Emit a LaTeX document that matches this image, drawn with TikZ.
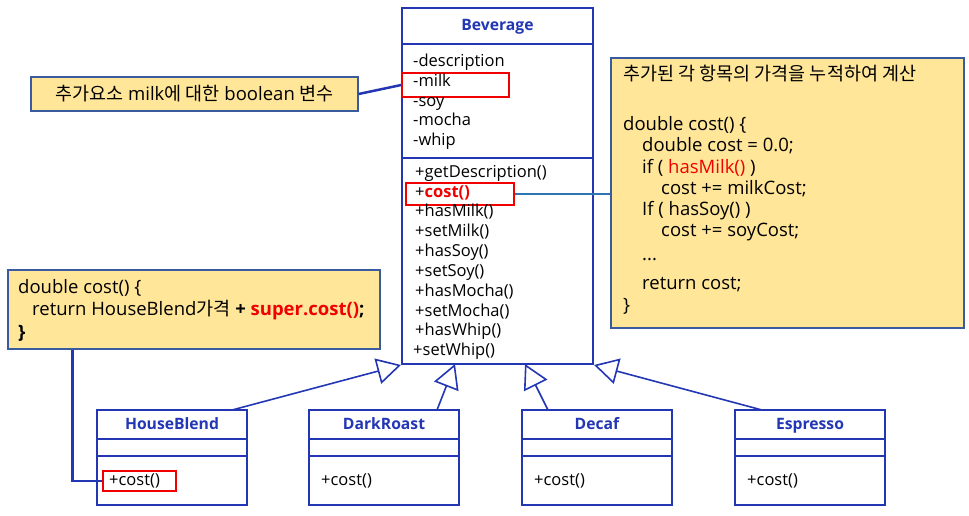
\documentclass[tikz,border=0pt]{standalone}
\usepackage{fontspec}
\setmainfont{Open Sans}
\newfontfamily\kr{Noto Sans CJK KR}
\usetikzlibrary{arrows.meta,calc}
\definecolor{umlblue}{HTML}{2337B5}
\definecolor{calloutfill}{HTML}{FFE699}
\definecolor{calloutline}{HTML}{3A5BA0}
\definecolor{linkblue}{HTML}{2E75B6}
\definecolor{hired}{HTML}{F00000}
\tikzset{
 umlbox/.style={draw=umlblue, line width=2pt, fill=white, inner sep=0},
 umlsep/.style={draw=umlblue, line width=2pt},
 umltitle/.style={text=umlblue, font=\fontsize{15.7}{18}\selectfont\bfseries, inner sep=0, text height=11.5pt, text depth=3.5pt},
 umltxt/.style={font=\fontsize{16.5}{19}\selectfont, anchor=west, inner sep=0, text height=12.5pt, text depth=3.5pt},
 hl/.style={draw=hired, line width=1.6pt, inner sep=0},
 callout/.style={draw=calloutline, line width=1.2pt, fill=calloutfill, inner sep=0},
 codetxt/.style={font=\fontsize{18.5}{21}\selectfont, anchor=west, inner sep=0, text height=14pt, text depth=4pt},
 inherit/.style={draw=umlblue, line width=1.6pt, -{Triangle[open, fill=white, length=24pt, width=26pt]}},
 link/.style={draw=umlblue, line width=2.5pt},
}
\begin{document}
\begin{tikzpicture}[x=1pt,y=-1pt]
\useasboundingbox (0,0) rectangle (969,515);

% Beverage class
\node[umlbox, minimum width=191pt, minimum height=356pt] (bev) at (497.5,186) {};
\draw[umlsep] (402,44) -- (593,44);
\draw[umlsep] (402,158) -- (593,158);
\node[umltitle] (bevtitle) at (497.5,26) {Beverage};
\node[hl, minimum width=107pt, minimum height=24pt] (milkhl) at (455.5,85) {};
\node[hl, minimum width=108pt, minimum height=22pt] (costhl) at (460,194) {};
\node[umltxt] (a1) at (413,62) {-description};
\node[umltxt] (a2) at (413,82) {-milk};
\node[umltxt] (a3) at (413,102) {-soy};
\node[umltxt] (a4) at (413,121) {-mocha};
\node[umltxt] (a5) at (413,141) {-whip};
\node[umltxt] (m1) at (415,173) {+getDescription()};
\node[umltxt] (m2) at (415,193) {+\textcolor{hired}{\bfseries cost()}};
\node[umltxt] (m3) at (415,212) {+hasMilk()};
\node[umltxt] (m4) at (415,232) {+setMilk()};
\node[umltxt] (m5) at (415,252) {+hasSoy()};
\node[umltxt] (m6) at (415,272) {+setSoy()};
\node[umltxt] (m7) at (415,292) {+hasMocha()};
\node[umltxt] (m8) at (415,312) {+setMocha()};
\node[umltxt] (m9) at (415,331) {+hasWhip()};
\node[umltxt] (m10) at (413,351) {+setWhip()};

% subclasses
\foreach \nm/\lbl/\x in {hb/HouseBlend/97, dr/DarkRoast/309, dc/Decaf/522, es/Espresso/735}{
  \node[umlbox, minimum width=150pt, minimum height=95pt] (\nm) at (\x+75,457.5) {};
  \draw[umlsep] (\x,439) -- (\x+150,439);
  \draw[umlsep] (\x,456) -- (\x+150,456);
  \node[umltitle] (\nm title) at (\x+75,425) {\lbl};
}
\node[hl, minimum width=73pt, minimum height=20pt] (hbcost) at (139.5,481) {};
\node[umltxt] (hbc) at (109,481) {+cost()};
\node[umltxt] (drc) at (321,481) {+cost()};
\node[umltxt] (dcc) at (534,481) {+cost()};
\node[umltxt] (esc) at (747,481) {+cost()};

% inheritance
\coordinate (hbtop) at (232,410);
\coordinate (drtop) at (437,410);
\coordinate (dctop) at (548,410);
\coordinate (estop) at (762,410);
\coordinate (drtip) at (455,364);
\coordinate (dctip) at (525,364);
\draw[inherit] (hbtop) -- (bev.south west);
\draw[inherit] (drtop) -- (drtip);
\draw[inherit] (dctop) -- (dctip);
\draw[inherit] (estop) -- (bev.south east);

% milk note
\node[callout, minimum width=327pt, minimum height=34pt, font=\fontsize{18.5}{21}\selectfont] (milknote) at (194.5,94) {{\kr 추가요소} milk{\kr 에 대한} boolean {\kr 변수}};
\draw[link] (milknote.east) -- (milkhl.west);

% right note
\node[callout, minimum width=353pt, minimum height=270pt] (rbox) at (787.5,193) {};
\node[codetxt] (r0) at (623,75) {\kr 추가된 각 항목의 가격을 누적하여 계산};
\node[codetxt] (r1) at (623,125) {double cost() \{};
\node[codetxt] (r2) at (642,146) {double cost = 0.0;};
\node[codetxt] (r3) at (642,168) {if ( \textcolor{hired}{hasMilk()} )};
\node[codetxt] (r4) at (661,189) {cost += milkCost;};
\node[codetxt] (r5) at (642,210) {If ( hasSoy() )};
\node[codetxt] (r6) at (661,231) {cost += soyCost;};
\node[codetxt] (r7) at (642,255) {...};
\node[codetxt] (r8) at (642,284) {return cost;};
\node[codetxt] (r9) at (623,306) {\}};
\draw[linkblue, line width=2pt] (costhl.east) -- (rbox.west |- costhl.east);

% left code note
\node[callout, minimum width=372pt, minimum height=79pt] (lbox) at (194,309.5) {};
\node[codetxt] (l1) at (18,288) {double cost() \{};
\node[codetxt] (l2) at (32,310) {return HouseBlend{\kr 가격} \textbf{+} \textcolor{hired}{\bfseries super.cost()}\textbf{;}};
\node[codetxt] (l3) at (18,333) {\textbf{\}}};
\draw[link] ($(lbox.south west)+(65,0)$) |- (hbcost.west);
\end{tikzpicture}
\end{document}
